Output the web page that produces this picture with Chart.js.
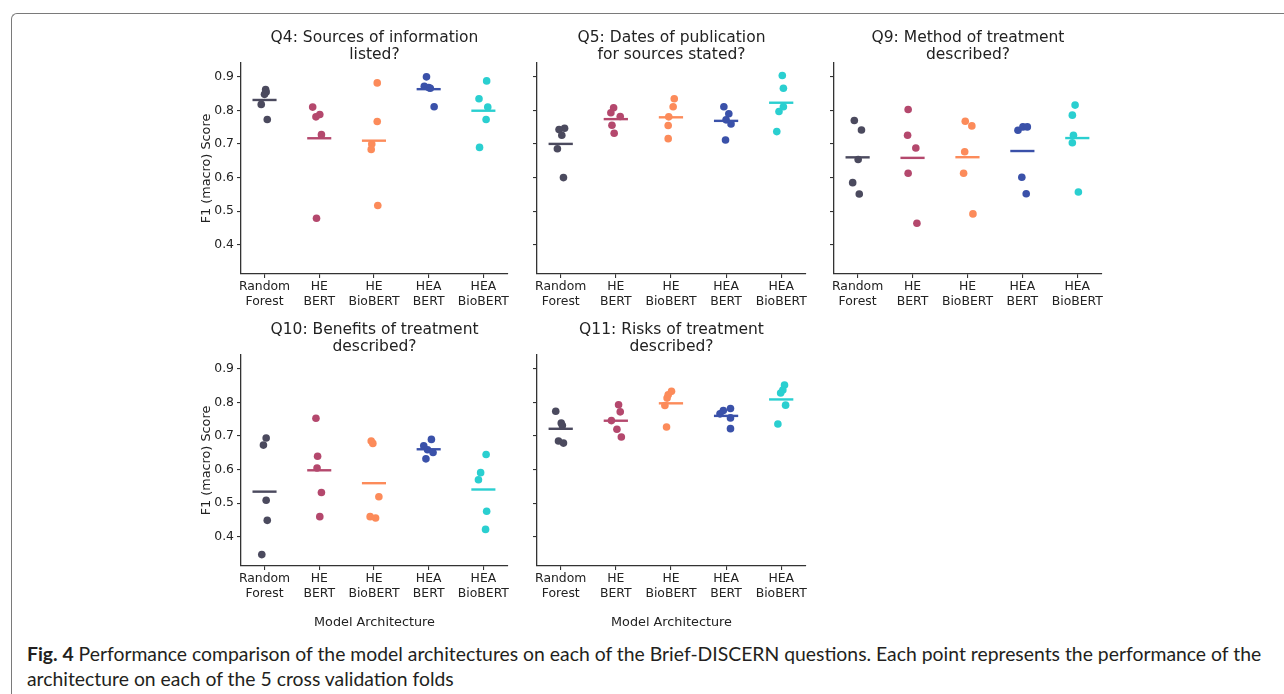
<!DOCTYPE html>
<html>
<head>
<meta charset="utf-8">
<script src="https://cdn.jsdelivr.net/npm/chart.js@4.4.1/dist/chart.umd.min.js"></script>
<style>
  html, body { margin: 0; padding: 0; background: #fff; }
  body { width: 1284px; height: 694px; position: relative; overflow: hidden; }
  #frame {
    position: absolute; left: 11px; top: 13px; width: 1300px; height: 720px;
    border-left: 1.5px solid #7a7a7a; border-top: 1.5px solid #7a7a7a;
    border-top-left-radius: 6px; box-sizing: border-box;
  }
  canvas.panel { position: absolute; }
  #caption {
    position: absolute; left: 27px; top: 641px; white-space: nowrap;
    font-family: "Lato", "Liberation Sans", sans-serif; font-size: 17px;
    line-height: 25px; color: #231f20;
  }
  #caption b { font-weight: bold; }
</style>
</head>
<body>
<div id="frame"></div>
<div id="caption"><span id="line1"><b>Fig. 4</b> Performance comparison of the model architectures on each of the Brief-DISCERN questions. Each point represents the performance of the</span><br><span>architecture on each of the 5 cross validation folds</span></div>

<script>
// categorias y colores
const categories = [["Random", "Forest"], ["HE", "BERT"], ["HE", "BioBERT"], ["HEA", "BERT"], ["HEA", "BioBERT"]];
const colors = ["#4b4a5e", "#b4486d", "#fc8b5a", "#3a51a9", "#2acfd0"];
const yTicks = [0.4, 0.5, 0.6, 0.7, 0.8, 0.9];

// titulos de cada pregunta
const q4Title = ["Q4: Sources of information", "listed?"];
const q5Title = ["Q5: Dates of publication", "for sources stated?"];
const q9Title = ["Q9: Method of treatment", "described?"];
const q10Title = ["Q10: Benefits of treatment", "described?"];
const q11Title = ["Q11: Risks of treatment", "described?"];

// F1 de los 5 folds por arquitectura
const q4Scores = [
  [0.862, 0.855, 0.848, 0.818, 0.773],
  [0.810, 0.788, 0.781, 0.728, 0.479],
  [0.882, 0.767, 0.700, 0.684, 0.517],
  [0.900, 0.872, 0.868, 0.866, 0.811],
  [0.888, 0.835, 0.810, 0.773, 0.690]
];
const q5Scores = [
  [0.747, 0.743, 0.726, 0.686, 0.600],
  [0.808, 0.793, 0.782, 0.756, 0.732],
  [0.835, 0.811, 0.781, 0.755, 0.716],
  [0.811, 0.790, 0.772, 0.760, 0.712],
  [0.904, 0.866, 0.811, 0.797, 0.737]
];
const q9Scores = [
  [0.770, 0.742, 0.654, 0.585, 0.551],
  [0.803, 0.726, 0.688, 0.613, 0.464],
  [0.768, 0.754, 0.677, 0.613, 0.492],
  [0.741, 0.751, 0.751, 0.601, 0.552],
  [0.816, 0.786, 0.726, 0.704, 0.557]
];
const q10Scores = [
  [0.694, 0.673, 0.509, 0.449, 0.347],
  [0.753, 0.640, 0.605, 0.532, 0.460],
  [0.685, 0.678, 0.519, 0.460, 0.456],
  [0.690, 0.671, 0.659, 0.651, 0.632],
  [0.645, 0.591, 0.570, 0.476, 0.422]
];
const q11Scores = [
  [0.774, 0.739, 0.731, 0.685, 0.679],
  [0.793, 0.772, 0.746, 0.720, 0.697],
  [0.833, 0.823, 0.813, 0.791, 0.727],
  [0.776, 0.782, 0.766, 0.754, 0.722],
  [0.852, 0.837, 0.828, 0.792, 0.736]
];

// desplazamiento horizontal (jitter) de cada punto, en unidades de categoria
const q4Jitter = [
  [0.02, 0.03, 0.0, -0.06, 0.05],
  [-0.12, 0.01, -0.06, 0.04, -0.05],
  [0.06, 0.06, -0.04, -0.05, 0.07],
  [-0.04, -0.08, 0.0, 0.03, 0.10],
  [0.06, -0.08, 0.08, 0.05, -0.07]
];
const q5Jitter = [
  [0.07, -0.03, 0.02, -0.06, 0.05],
  [-0.04, -0.09, 0.08, -0.07, -0.03],
  [0.06, 0.04, -0.04, -0.05, -0.05],
  [-0.04, 0.05, 0.0, 0.09, -0.01],
  [0.02, 0.04, 0.04, -0.04, -0.08]
];
const q9Jitter = [
  [-0.06, 0.07, 0.01, -0.09, 0.03],
  [-0.08, -0.09, 0.06, -0.08, 0.08],
  [-0.04, 0.08, -0.05, -0.07, 0.10],
  [-0.08, 0.01, 0.09, -0.01, 0.07],
  [-0.04, -0.09, -0.07, -0.09, 0.02]
];
const q10Jitter = [
  [0.03, -0.02, 0.03, 0.05, -0.05],
  [-0.06, -0.03, -0.04, 0.04, 0.01],
  [-0.05, -0.02, 0.09, -0.07, 0.03],
  [0.05, -0.09, -0.02, 0.08, -0.05],
  [0.05, -0.05, -0.09, 0.06, 0.04]
];
const q11Jitter = [
  [-0.09, 0.01, 0.03, -0.04, 0.05],
  [0.05, 0.08, -0.08, 0.02, 0.10],
  [0.01, -0.05, -0.07, -0.11, -0.08],
  [-0.05, 0.08, -0.11, 0.08, 0.08],
  [0.06, 0.03, -0.01, 0.08, -0.06]
];

// area de dibujo de cada panel en la pagina: [left, top, right, bottom]
const panels = [
  { title: q4Title, scores: q4Scores, jitter: q4Jitter, area: [240.7, 63, 508, 274], yLabels: true, xTitle: false },
  { title: q5Title, scores: q5Scores, jitter: q5Jitter, area: [537.3, 63, 806, 274], yLabels: false, xTitle: false },
  { title: q9Title, scores: q9Scores, jitter: q9Jitter, area: [834.3, 63, 1102.3, 274], yLabels: false, xTitle: false },
  { title: q10Title, scores: q10Scores, jitter: q10Jitter, area: [240.7, 355.3, 508, 566], yLabels: true, xTitle: true },
  { title: q11Title, scores: q11Scores, jitter: q11Jitter, area: [537.3, 355.3, 806, 566], yLabels: false, xTitle: true }
];

const FONT = "'DejaVu Sans', sans-serif";
const mean = (arr) => arr.reduce((a, b) => a + b, 0) / arr.length;

function drawPanel(p) {
  const [l, t, r, b] = p.area;
  const yW = 45, padR = 20, titleH = 36.1;
  const xH = p.xTitle ? 64 : 40;
  const w = Math.round(r - l + yW + padR);
  const h = Math.round(b - t + titleH + xH);

  const canvas = document.createElement("canvas");
  canvas.className = "panel";
  canvas.width = w;
  canvas.height = h;
  canvas.style.width = w + "px";
  canvas.style.height = h + "px";
  canvas.style.left = (l - yW) + "px";
  canvas.style.top = (t - titleH) + "px";
  document.body.appendChild(canvas);

  const datasets = [];
  p.scores.forEach((vals, i) => {
    const m = mean(vals);
    //linea de la media
    datasets.push({
      data: [{ x: i - 0.22, y: m }, { x: i + 0.22, y: m }],
      showLine: true,
      borderColor: colors[i],
      borderWidth: 2.4,
      pointRadius: 0,
      order: 0
    });
    //puntos de cada fold
    datasets.push({
      data: vals.map((v, j) => ({ x: i + p.jitter[i][j], y: v })),
      backgroundColor: colors[i],
      pointRadius: 3.8,
      pointBorderWidth: 0,
      pointHoverRadius: 3.8,
      order: 1
    });
  });

  const axisGrid = { display: true, drawOnChartArea: false, drawTicks: true, tickLength: 4, color: "#333", lineWidth: 1.1 };
  const axisBorder = { display: true, color: "#333", width: 1.3 };

  new Chart(canvas, {
    type: "scatter",
    data: { datasets },
    options: {
      responsive: false,
      animation: false,
      events: [],
      layout: { padding: { top: 0, left: 0, right: padR, bottom: 0 } },
      plugins: {
        legend: { display: false },
        tooltip: { enabled: false },
        title: {
          display: true,
          text: p.title,
          fullSize: false,
          color: "#222",
          font: { family: FONT, size: 15.5, weight: "normal", lineHeight: 1.1 },
          padding: { top: 2, bottom: 0 }
        }
      },
      scales: {
        x: {
          type: "linear",
          min: -0.43,
          max: 4.45,
          afterBuildTicks: (s) => { s.ticks = categories.map((c, i) => ({ value: i })); },
          afterFit: (s) => { s.height = xH; },
          grid: axisGrid,
          border: axisBorder,
          ticks: {
            callback: (v) => categories[v],
            color: "#222",
            font: { family: FONT, size: 12.4, lineHeight: 1.16 },
            padding: 2,
            maxRotation: 0,
            autoSkip: false
          },
          title: {
            display: p.xTitle,
            text: "Model Architecture",
            color: "#222",
            font: { family: FONT, size: 12.8 },
            padding: { top: 0, bottom: 0 }
          }
        },
        y: {
          type: "linear",
          min: 0.313,
          max: 0.941,
          afterBuildTicks: (s) => { s.ticks = yTicks.map((v) => ({ value: v })); },
          afterFit: (s) => { s.width = yW; },
          grid: axisGrid,
          border: axisBorder,
          ticks: {
            callback: (v) => (p.yLabels ? v.toFixed(1) : ""),
            color: "#222",
            font: { family: FONT, size: 12.4 },
            padding: 3
          },
          title: {
            display: p.yLabels,
            text: "F1 (macro) Score",
            color: "#222",
            font: { family: FONT, size: 12.8 },
            padding: { top: 2.5, bottom: 0 }
          }
        }
      }
    }
  });
}

panels.forEach(drawPanel);

//ajuste del ancho de la leyenda de la figura
const $caption = document.getElementById("caption");
const $line1 = document.getElementById("line1");
const lineW = $line1.getBoundingClientRect().width;
$caption.style.fontSize = (17 * 1235 / lineW).toFixed(2) + "px";
</script>
</body>
</html>
